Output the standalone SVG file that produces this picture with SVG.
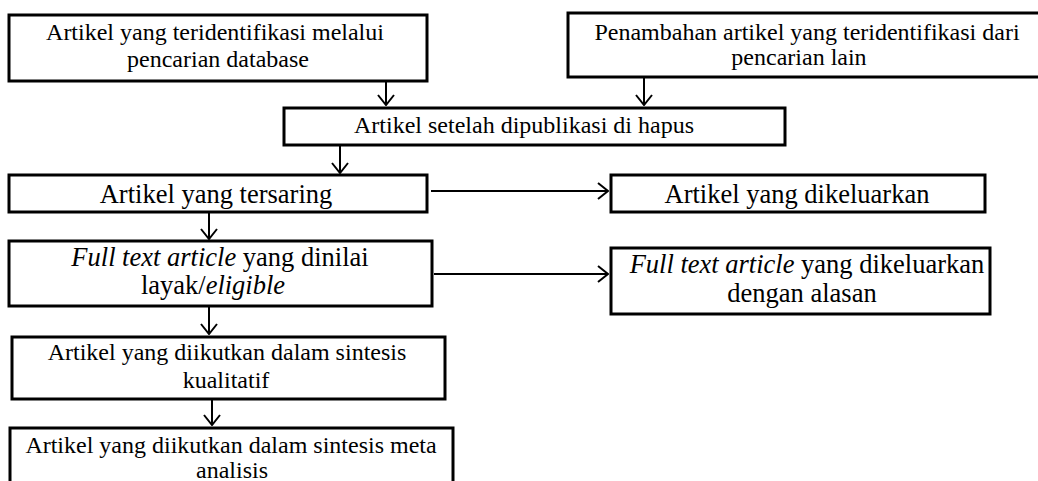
<svg xmlns="http://www.w3.org/2000/svg" width="1038" height="481" viewBox="0 0 1038 481">
<style>
.box{fill:#fff;stroke:#000;stroke-width:3}
.t{font-family:"Liberation Serif","Times New Roman",serif;fill:#000;text-anchor:middle}
.s24{font-size:24px}
.s26{font-size:26.5px}
.conn{stroke:#000;stroke-width:2;fill:none}
</style>
<defs>
<marker id="ah" viewBox="0 0 12 18" refX="11" refY="9" markerWidth="12" markerHeight="18" markerUnits="userSpaceOnUse" orient="auto">
<path d="M1,1 L11,9 L1,17" fill="none" stroke="#000" stroke-width="2"/>
</marker>
</defs>
<rect width="1038" height="481" fill="#fff"/>
<g id="connectors">
<line class="conn" x1="386" y1="82" x2="386" y2="105" marker-end="url(#ah)"/>
<line class="conn" x1="644" y1="78" x2="644" y2="105" marker-end="url(#ah)"/>
<line class="conn" x1="340" y1="146" x2="340" y2="173" marker-end="url(#ah)"/>
<line class="conn" x1="431" y1="191" x2="608" y2="191" marker-end="url(#ah)"/>
<line class="conn" x1="209" y1="212" x2="209" y2="239" marker-end="url(#ah)"/>
<line class="conn" x1="434" y1="274" x2="608" y2="274" marker-end="url(#ah)"/>
<line class="conn" x1="209" y1="306" x2="209" y2="334" marker-end="url(#ah)"/>
<line class="conn" x1="212" y1="399" x2="212" y2="425" marker-end="url(#ah)"/>
</g>
<g id="n1">
<rect class="box" x="9" y="15" width="418" height="66"/>
<text class="t s24" x="215" y="40">Artikel yang teridentifikasi melalui</text>
<text class="t s24" x="218" y="67">pencarian database</text>
</g>
<g id="n2">
<rect class="box" x="568" y="13" width="480" height="64"/>
<text class="t s24" x="807" y="40">Penambahan artikel yang teridentifikasi dari</text>
<text class="t s24" x="799" y="65">pencarian lain</text>
</g>
<g id="n3">
<rect class="box" x="284" y="108" width="501" height="37"/>
<text class="t s24" x="524" y="133">Artikel setelah dipublikasi di hapus</text>
</g>
<g id="n4">
<rect class="box" x="9" y="175" width="418" height="37"/>
<text class="t s26" x="216" y="203">Artikel yang tersaring</text>
</g>
<g id="n5">
<rect class="box" x="611" y="175" width="374" height="37"/>
<text class="t s26" x="797" y="203">Artikel yang dikeluarkan</text>
</g>
<g id="n6">
<rect class="box" x="9" y="241" width="423" height="65"/>
<text class="t s26" x="220" y="266"><tspan font-style="italic">Full text article</tspan> yang dinilai</text>
<text class="t s26" x="213" y="294">layak/<tspan font-style="italic">eligible</tspan></text>
</g>
<g id="n7">
<rect class="box" x="611" y="248" width="379" height="66"/>
<text class="t s26" x="807" y="273"><tspan font-style="italic">Full text article</tspan> yang dikeluarkan</text>
<text class="t s26" x="802" y="302">dengan alasan</text>
</g>
<g id="n8">
<rect class="box" x="12" y="337" width="433" height="62"/>
<text class="t s24" x="227" y="360">Artikel yang diikutkan dalam sintesis</text>
<text class="t s24" x="226" y="388">kualitatif</text>
</g>
<g id="n9">
<rect class="box" x="10" y="428" width="443" height="70"/>
<text class="t s24" x="231" y="453">Artikel yang diikutkan dalam sintesis meta</text>
<text class="t s24" x="232" y="478">analisis</text>
</g>
</svg>
